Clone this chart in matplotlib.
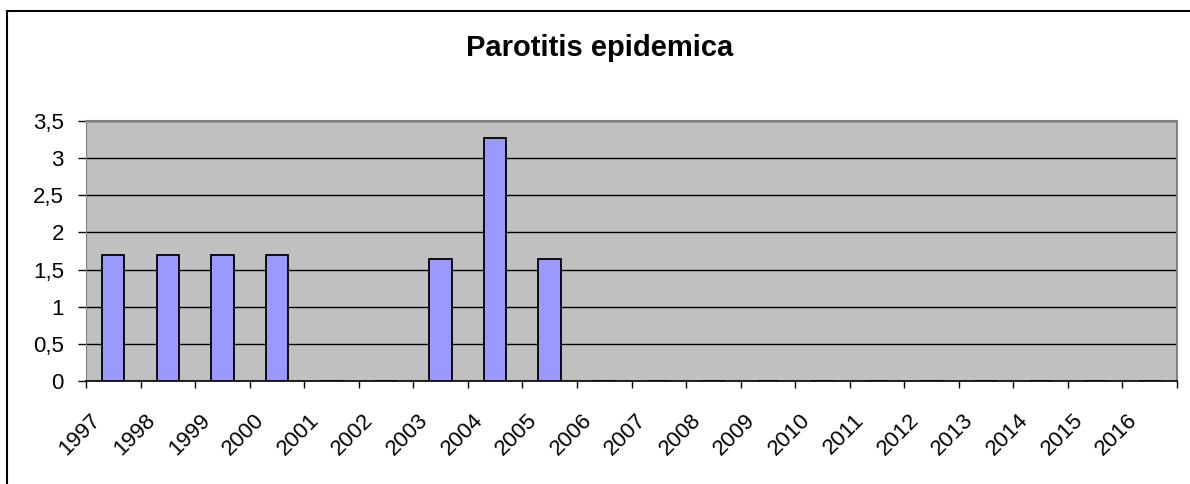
import matplotlib
matplotlib.use("Agg")
import matplotlib.pyplot as plt
import matplotlib.transforms as mtransforms
from matplotlib.patches import Rectangle
import numpy as np

years = [str(y) for y in range(1997, 2017)]
values = [1.70, 1.70, 1.70, 1.70, 0, 0, 1.64, 3.27, 1.64, 0, 0, 0, 0, 0, 0, 0, 0, 0, 0, 0]
yticks = [0, 0.5, 1, 1.5, 2, 2.5, 3, 3.5]
ytick_labels = ["0", "0,5", "1", "1,5", "2", "2,5", "3", "3,5"]
title = "Parotitis epidemica"

plt.rcParams['font.family'] = ['Liberation Sans', 'DejaVu Sans']

W, H = 1190, 484
fig = plt.figure(figsize=(W / 100, H / 100), dpi=100)
fig.patch.set_facecolor("white")

# outer chart border
fig.patches.append(Rectangle((7 / W, -0.05), 1.2, (H - 11) / H + 0.05, transform=fig.transFigure,
                             fill=False, edgecolor="black", linewidth=1.5))

left, right, top, bottom = 86, 1177, 121, 381
ax = fig.add_axes([left / W, 1 - bottom / H, (right - left) / W, (bottom - top) / H])
ax.set_facecolor("#c0c0c0")

x = np.arange(len(years))
ax.bar(x, values, width=0.41, color="#9999ff", edgecolor="black", linewidth=1.3, zorder=3)

ax.set_xlim(-0.5, len(years) - 0.5)
ax.set_ylim(0, 3.5)
ax.set_yticks(yticks)
ax.set_yticklabels(ytick_labels, fontsize=16)
ax.yaxis.grid(True, color="black", linewidth=1)
ax.set_axisbelow(True)

# category labels (rotated), anchored at each category centre
ax.set_xticks(x)
ax.set_xticklabels([])
ax.tick_params(axis="x", which="major", length=0)
offset = mtransforms.ScaledTranslation(-23 / 100, -29 / 100, fig.dpi_scale_trans)
for xi, lab in zip(x, years):
    ax.text(xi, 0, lab, transform=ax.get_xaxis_transform() + offset, fontsize=16,
            rotation=45, ha="right", va="top", rotation_mode="anchor", clip_on=False)

ax.set_xticks(np.arange(-0.5, len(years) + 0.5, 1), minor=True)
ax.tick_params(axis="x", which="minor", length=5, width=1, color="black", direction="out")
ax.tick_params(axis="y", length=6, width=1, color="black", direction="out", pad=10)

for s in ["top", "right"]:
    ax.spines[s].set_color("#808080")
    ax.spines[s].set_linewidth(1.5)
ax.spines["left"].set_color("#808080")
ax.spines["bottom"].set_color("black")
ax.spines["bottom"].set_linewidth(1.2)

fig.text(600 / W, 1 - 48 / H, title, ha="center", va="center", fontsize=21, fontweight="bold")

fig.savefig("out.png", dpi=100)
